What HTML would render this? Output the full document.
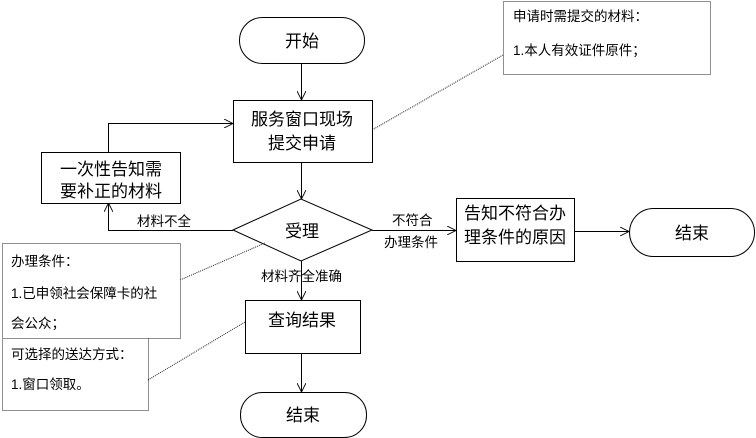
<!DOCTYPE html>
<html><head><meta charset="utf-8"><style>
body{margin:0;background:#fff}
svg{display:block}
text{font-family:"Liberation Sans","Noto Sans CJK SC",sans-serif;fill:#000}
</style></head><body>
<svg width="756" height="438" viewBox="0 0 756 438">
<defs><marker id="a" viewBox="0 0 10 10" refX="10" refY="5" markerWidth="9" markerHeight="9" orient="auto"><path d="M0,0 L10,5 L0,10" fill="none" stroke="#000" stroke-width="1"/></marker></defs>
<g fill="none" stroke="#000" stroke-width="1">
<rect x="239.5" y="17.5" width="125" height="46" rx="23"/>
<rect x="233.5" y="100.5" width="139" height="62"/>
<rect x="41.5" y="152.5" width="139" height="51"/>
<path d="M233,230 L301,199 L372,230 L301,261 Z"/>
<rect x="456.5" y="198.5" width="118" height="63"/>
<rect x="629.5" y="208.5" width="125" height="48" rx="24"/>
<rect x="245.5" y="300.5" width="115" height="53"/>
<rect x="240.5" y="392.5" width="126" height="45" rx="22"/>
<g marker-end="url(#a)">
<path d="M301.5,63 V100"/>
<path d="M301.5,162 V199"/>
<path d="M233,230.5 H108.5 V203"/>
<path d="M108.5,152 V123.5 H233"/>
<path d="M372,230.5 H456"/>
<path d="M574,231.5 H629"/>
<path d="M301.5,261 V300"/>
<path d="M301.5,353 V392"/>
</g>
</g>
<g fill="none" stroke="#222" stroke-dasharray="1,1">
<rect x="503.5" y="1.5" width="207" height="73"/>
<rect x="2.5" y="243.5" width="178" height="95"/>
<rect x="2.5" y="338.5" width="146" height="72"/>
<path d="M372,130 L503,55"/>
<path d="M180,280 L265,243"/>
<path d="M148,380 L245,322"/>
</g>
<g font-size="17" text-anchor="middle">
<text x="302" y="47">开始</text>
<text x="302" y="125">服务窗口现场</text>
<text x="302" y="149">提交申请</text>
<text x="111" y="175">一次性告知需</text>
<text x="111" y="197">要补正的材料</text>
<text x="302" y="237">受理</text>
<text x="515" y="219">告知不符合办</text>
<text x="515" y="243">理条件的原因</text>
<text x="692" y="239">结束</text>
<text x="302" y="326">查询结果</text>
<text x="303" y="421">结束</text>
</g>
<g font-size="13.5">
<text x="137" y="226">材料不全</text>
<text x="392" y="225">不符合</text>
<text x="384" y="247">办理条件</text>
<text x="261" y="281">材料齐全准确</text>
<text x="513" y="21">申请时需提交的材料：</text>
<text x="513" y="55">1.本人有效证件原件；</text>
<text x="11" y="266">办理条件：</text>
<text x="11" y="298">1.已申领社会保障卡的社</text>
<text x="11" y="328">会公众；</text>
<text x="11" y="359">可选择的送达方式：</text>
<text x="11" y="389">1.窗口领取。</text>
</g>
</svg>
</body></html>
